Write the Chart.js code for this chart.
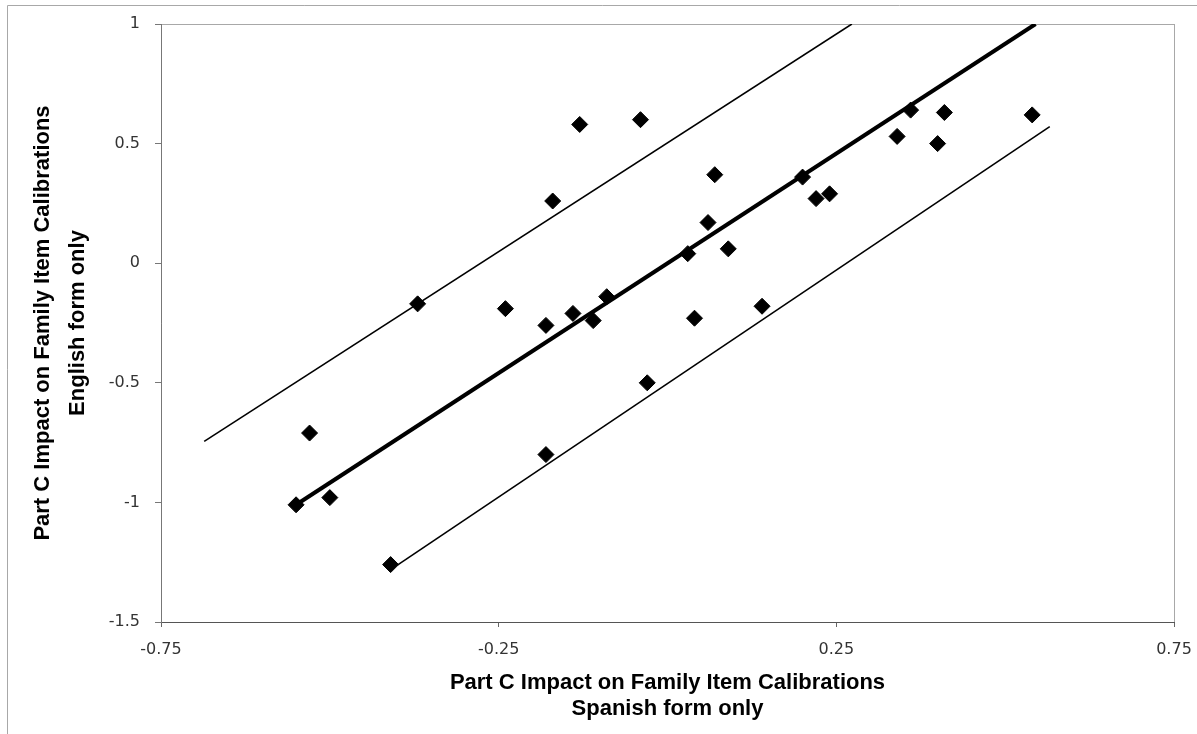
<!DOCTYPE html>
<html>
<head>
<meta charset="utf-8">
<script src="https://cdn.jsdelivr.net/npm/chart.js@4"></script>
<style>
  html, body { margin: 0; padding: 0; background: #fff; }
  #wrap { width: 1197px; height: 734px; }
</style>
</head>
<body>
<div id="wrap"><canvas id="chart" width="1197" height="734"></canvas></div>
<script>
// item calibrations (Spanish form x, English form y)
const spanishVals = [-0.55, -0.53, -0.50, -0.41, -0.37, -0.24, -0.18, -0.14, -0.11, -0.09, -0.18, -0.03,
  -0.17, -0.13, -0.04, 0.07, 0.06, 0.03, 0.09, 0.14, 0.04, 0.20, 0.22, 0.24, 0.34, 0.36, 0.40, 0.41, 0.54];
const englishVals = [-1.01, -0.71, -0.98, -1.26, -0.17, -0.19, -0.26, -0.21, -0.24, -0.14, -0.80, -0.50,
  0.26, 0.58, 0.60, 0.37, 0.17, 0.04, 0.06, -0.18, -0.23, 0.36, 0.27, 0.29, 0.53, 0.64, 0.50, 0.63, 0.62];

// identity line and control limits (end points)
const fitX = [-0.55, 0.545];
const fitY = [-1.01, 1.0];
const upperX = [-0.686, 0.273];
const upperY = [-0.745, 1.0];
const lowerX = [-0.40, 0.566];
const lowerY = [-1.262, 0.571];

const xTicks = [-0.75, -0.25, 0.25, 0.75];
const yTicks = [-1.5, -1, -0.5, 0, 0.5, 1];

const xTitle = ['Part C Impact on Family Item Calibrations', 'Spanish form only'];
const yTitle = ['Part C Impact on Family Item Calibrations', 'English form only'];

const pts = (xs, ys) => xs.map((x, i) => ({ x, y: ys[i] }));

const framePlugin = {
  id: 'frame',
  beforeDraw(chart) {
    const { ctx, chartArea: a } = chart;
    ctx.save();
    ctx.strokeStyle = '#a8a8a8';
    ctx.lineWidth = 1;
    ctx.beginPath();
    ctx.moveTo(7.5, chart.height);
    ctx.lineTo(7.5, 5.5);
    ctx.lineTo(chart.width, 5.5);
    ctx.stroke();
    ctx.strokeRect(a.left + 0.5, a.top + 0.5, a.right - a.left, a.bottom - a.top);
    ctx.restore();
  }
};

new Chart(document.getElementById('chart').getContext('2d'), {
  type: 'scatter',
  data: {
    datasets: [
      {
        label: 'Upper',
        data: pts(upperX, upperY),
        showLine: true,
        borderColor: '#000',
        borderWidth: 1.6,
        pointRadius: 0
      },
      {
        label: 'Lower',
        data: pts(lowerX, lowerY),
        showLine: true,
        borderColor: '#000',
        borderWidth: 1.6,
        pointRadius: 0
      },
      {
        label: 'Fit',
        data: pts(fitX, fitY),
        showLine: true,
        borderColor: '#000',
        borderWidth: 4,
        pointRadius: 0
      },
      {
        label: 'Items',
        data: pts(spanishVals, englishVals),
        pointStyle: 'rectRot',
        pointRadius: 8,
        backgroundColor: '#000',
        borderColor: '#000',
        borderWidth: 1
      }
    ]
  },
  options: {
    responsive: false,
    animation: false,
    layout: { padding: { left: 0, top: 24, right: 23, bottom: 0 } },
    plugins: {
      legend: { display: false },
      tooltip: { enabled: false }
    },
    scales: {
      x: {
        type: 'linear',
        min: -0.75,
        max: 0.75,
        afterBuildTicks: s => { s.ticks = xTicks.map(v => ({ value: v })); },
        afterFit: s => { s.height = 112; s.paddingLeft = 0; s.paddingRight = 0; },
        grid: { drawOnChartArea: false, drawTicks: true, tickLength: 5, color: '#666' },
        border: { display: true, color: '#555', width: 1 },
        ticks: {
          color: '#333', padding: 13,
          font: { family: 'DejaVu Sans', size: 16 },
          callback: v => String(v)
        },
        title: {
          display: true,
          text: xTitle,
          color: '#000',
          padding: { top: 0, bottom: 12 },
          font: { family: 'Liberation Sans', size: 22, weight: 'bold', lineHeight: '26px' }
        }
      },
      y: {
        type: 'linear',
        min: -1.5,
        max: 1,
        afterBuildTicks: s => { s.ticks = yTicks.map(v => ({ value: v })); },
        afterFit: s => { s.width = 161; s.paddingTop = 0; s.paddingBottom = 0; },
        grid: { drawOnChartArea: false, drawTicks: true, tickLength: 6, color: '#777' },
        border: { display: true, color: '#777', width: 1 },
        ticks: {
          color: '#333', padding: 15,
          font: { family: 'DejaVu Sans', size: 16 },
          callback: v => String(v)
        },
        title: {
          display: true,
          text: yTitle,
          color: '#000',
          padding: { top: 25, bottom: 0 },
          font: { family: 'Liberation Sans', size: 22, weight: 'bold', lineHeight: '35px' }
        }
      }
    }
  },
  plugins: [framePlugin]
});
</script>
</body>
</html>
